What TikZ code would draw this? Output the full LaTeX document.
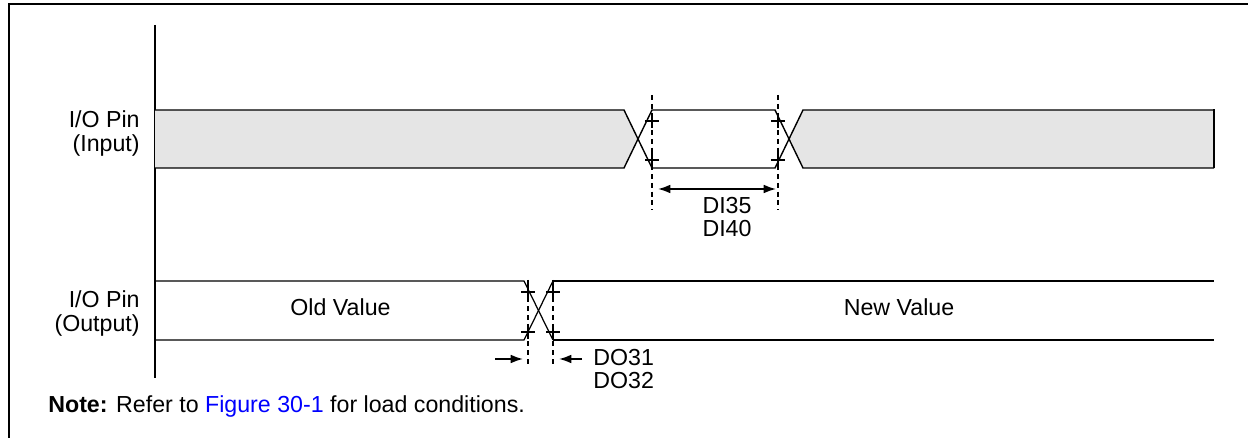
\documentclass[tikz,border=0pt]{standalone}
\usepackage{fontspec}
\setmainfont{Liberation Sans}
\usetikzlibrary{arrows.meta}

\begin{document}
\begin{tikzpicture}[x=0.02cm, y=-0.02cm, font=\fontsize{13.2}{15.8}\selectfont,
  wave/.style={line width=0.8pt},
  dashline/.style={line width=0.9pt, dash pattern=on 2.8pt off 2.2pt},
  dimarrow/.style={line width=1pt, -{Latex[length=7pt,width=5pt]}},
  lbl/.style={inner sep=0pt}]
  \useasboundingbox (0,0) rectangle (1248,438);
  % frame and time axis
  \draw[line width=1.2pt] (9,438) -- (9,4) -- (1248,4);
  \draw[line width=1pt] (155,25) -- (155,378);

  % input waveform
  \fill[gray!20] (155,110) -- (624,110) -- (638,139) -- (624,168) -- (155,168) -- cycle;
  \fill[gray!20] (789,139) -- (803,110) -- (1214,110) -- (1214,168) -- (803,168) -- cycle;
  \draw[wave] (155,110) -- (624,110) -- (652,168) -- (775,168) -- (803,110) -- (1214,110);
  \draw[wave] (155,168) -- (624,168) -- (652,110) -- (775,110) -- (803,168) -- (1214,168);
  \draw[line width=1.4pt] (1214,109.5) -- (1214,168.5);

  % output waveform
  \draw[line width=0.7pt] (155,281) -- (524,281) -- (553,340);
  \draw[line width=0.7pt] (155,340) -- (524,340) -- (553,281);
  \draw[line width=1.1pt] (553,281) -- (1214,281);
  \draw[line width=1.1pt] (553,340) -- (1214,340);

  % timing marks
  \coordinate (inA) at (652,95);  \coordinate (inB) at (652,210);
  \coordinate (inC) at (778,95);  \coordinate (inD) at (778,210);
  \coordinate (outA) at (528,280); \coordinate (outB) at (528,366);
  \coordinate (outC) at (553,280); \coordinate (outD) at (553,366);
  \draw[dashline] (inA) -- (inB);
  \draw[dashline] (inC) -- (inD);
  \draw[dashline] (outA) -- (outB);
  \draw[dashline] (outC) -- (outD);
  \foreach \cx/\cy in {652/121, 652/160, 778/121, 778/160, 528/292, 528/332, 553/292, 553/332}
    \draw[line width=0.9pt] (\cx-7,\cy) -- (\cx+7,\cy) (\cx,\cy-7) -- (\cx,\cy+7);

  % dimension arrows
  \coordinate (diL) at (658,189); \coordinate (diR) at (776,189);
  \draw[dimarrow, {Latex[length=7pt,width=5pt]}-{Latex[length=7pt,width=5pt]}] (diL) -- (diR);
  \coordinate (doL1) at (495,359); \coordinate (doL2) at (523,359);
  \coordinate (doR1) at (582,359); \coordinate (doR2) at (559,359);
  \draw[dimarrow] (doL1) -- (doL2);
  \draw[dimarrow] (doR1) -- (doR2);

  % labels
  \node[lbl, anchor=base east] (inpin)  at (140,128) {I/O Pin};
  \node[lbl, anchor=base east] (inname) at (140,152) {(Input)};
  \node[lbl, anchor=base east] (outpin)  at (140,308) {I/O Pin};
  \node[lbl, anchor=base east] (outname) at (140,332) {(Output)};
  \node[lbl, anchor=base] (oldval) at (340.5,316) {Old Value};
  \node[lbl, anchor=base] (newval) at (899,316) {New Value};
  \node[lbl, anchor=base] (di35) at (727,214) {DI35};
  \node[lbl, anchor=base] (di40) at (727,236.7) {DI40};
  \node[lbl, anchor=base west] (do31) at (593,366) {DO31};
  \node[lbl, anchor=base west] (do32) at (593,388.5) {DO32};
  \node[lbl, anchor=base west] (note) at (48,413)
    {\textbf{Note:} Refer to {\color{blue}Figure 30-1} for load conditions.};
\end{tikzpicture}
\end{document}
